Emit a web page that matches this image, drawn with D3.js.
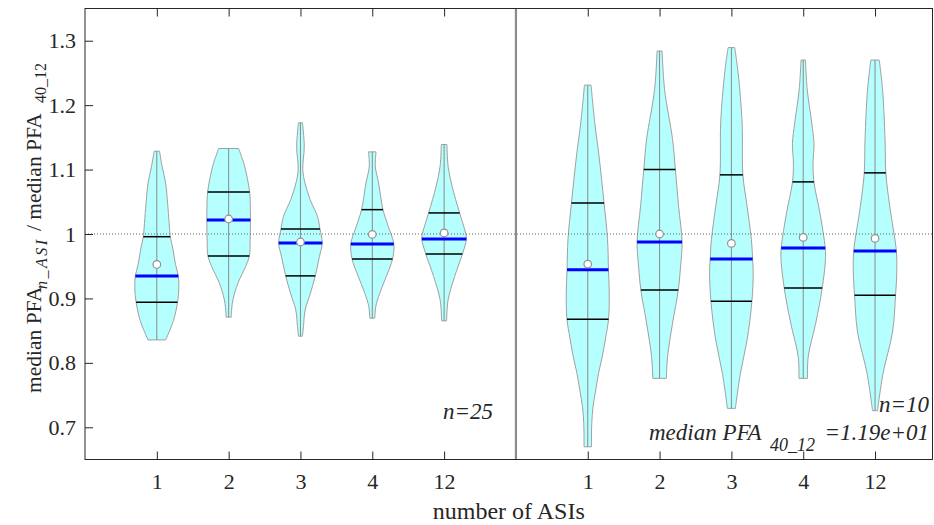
<!DOCTYPE html>
<html><head><meta charset="utf-8">
<script src="https://cdn.jsdelivr.net/npm/d3@7"></script>
<style>body{margin:0;background:#fff}svg{display:block}text{font-family:"Liberation Serif","Times New Roman",serif;fill:#262626}</style>
</head><body><svg id="c" width="934" height="525"></svg>
<script>
// ---- data ----
const tickLabels = ["1","2","3","4","12"];
const positions = [1,2,3,4,5,7,8,9,10,11];
const mins   = [0.8356,0.871,0.8414,0.8693,0.8652, 0.6697,0.776,0.7294,0.776,0.7257];
const maxs   = [1.1285,1.1327,1.1726,1.1275,1.1389, 1.2311,1.284,1.2893,1.27,1.27];
const q1s    = [0.894,0.9658,0.935,0.9611,0.9689, 0.8678,0.913,0.8958,0.916,0.9051];
const medians= [0.9347,1.0218,0.986,0.9844,0.9922, 0.9445,0.9876,0.9611,0.9782,0.9736];
const q3s    = [0.9958,1.0653,1.0078,1.0378,1.0327, 1.0482,1.1,1.0918,1.0809,1.0949];
const means  = [0.9527,1.0233,0.9876,0.9994,1.0016, 0.9533,1.0,0.9854,0.9947,0.9932];
// density profiles: [value, relative density]
const profiles = [
 [[1.1285,2.7],[1.105,5.3],[1.079,8.8],[1.053,10.5],[1.0,13.2],[0.9958,13.5],[0.9756,16.2],[0.9527,18.7],[0.9347,21.5],[0.915,22],[0.894,20.7],[0.866,16.7],[0.8356,8.8]],
 [[1.1327,10],[1.1207,12.8],[1.105,16],[1.0653,21],[1.04,21.7],[1.0218,21.8],[0.99,21.5],[0.9658,20.7],[0.9496,17],[0.9238,9.3],[0.8978,4.3],[0.877,2.7],[0.871,2.7]],
 [[1.1726,2],[1.1362,3.8],[1.1,2.3],[1.0793,4.5],[1.0533,9.7],[1.0274,17],[1.0078,19.5],[0.986,21.8],[0.9652,19],[0.935,14.8],[0.9082,10],[0.8822,4.7],[0.8563,3],[0.8414,2]],
 [[1.1275,3.8],[1.1051,3],[1.0793,6.3],[1.0378,10.7],[1.0118,16],[0.9844,21.5],[0.9611,20.2],[0.934,14],[0.9082,7.5],[0.8874,3.5],[0.8693,2.5]],
 [[1.1389,2.8],[1.1051,4],[1.074,8],[1.0327,15.5],[1.0016,21.5],[0.9922,22.3],[0.9689,18.3],[0.934,10.5],[0.8978,4],[0.8652,2.5]],
 [[1.2311,3.3],[1.1726,7],[1.1207,11.3],[1.0482,16.3],[0.9911,19.8],[0.9445,20.7],[0.9082,21.5],[0.8678,20.8],[0.84,18],[0.8096,14.5],[0.7838,10.8],[0.7579,8],[0.732,5.3],[0.7061,4],[0.6697,3.7]],
 [[1.284,2.5],[1.2244,5],[1.1467,13],[1.1,15.8],[1.0429,19],[0.9876,22.5],[0.9496,21],[0.9129,18.7],[0.8616,13],[0.8096,8],[0.776,6.8]],
 [[1.2893,3.3],[1.2504,6.7],[1.1726,10.7],[1.0918,11.5],[1.0429,15.7],[0.9911,20],[0.9611,21.2],[0.9393,21.8],[0.8958,20.5],[0.8356,15.7],[0.7838,9],[0.7294,4]],
 [[1.27,2.2],[1.2244,4],[1.1726,8.5],[1.14,10.8],[1.11,9.8],[1.0809,10.7],[1.0327,16.7],[0.9782,22],[0.96,22.2],[0.916,19],[0.8616,12.5],[0.8096,5],[0.776,4.3]],
 [[1.27,4.2],[1.2244,7.5],[1.1467,10],[1.0949,10.8],[1.0429,14.7],[0.9736,21.3],[0.9393,21.7],[0.9051,20.5],[0.848,17.5],[0.7838,8],[0.7257,2.5]]
];
const yTicks = [0.7,0.8,0.9,1,1.1,1.2,1.3];
const nLabels = ["n=25","n=10"];
const refValue = "=1.19e+01";

// ---- layout ----
const svg = d3.select("#c");
const L=85, R=932.5, T=8.5, B=459.5;
const x = d3.scaleLinear().domain([0,11.8]).range([L,R]);
const y = d3.scaleLinear().domain([0.65,1.35]).range([B,T]);
const w = d3.scaleLinear().domain([0,22]).range([0,22]);
const ink="#262626";

const g = svg.append("g");
profiles.forEach((prof,i)=>{
  const cx = x(positions[i]);
  const pts = prof.slice().sort((a,b)=>b[0]-a[0]);
  const area = d3.area().curve(d3.curveCatmullRom.alpha(0.5))
     .y(d=>y(d[0])).x0(d=>cx-w(d[1])).x1(d=>cx+w(d[1]));
  g.append("path").attr("d",area(pts)).attr("fill","#b5ffff").attr("stroke","#a0a0a0").attr("stroke-width",1);
});
g.append("line").attr("x1",L).attr("x2",R).attr("y1",y(1)).attr("y2",y(1))
  .attr("stroke","#606060").attr("stroke-width",1).attr("stroke-dasharray","1,2");
profiles.forEach((prof,i)=>{
  const cx = x(positions[i]);
  const pts = prof.slice().sort((a,b)=>a[0]-b[0]);
  const hw = d3.scaleLinear().domain(pts.map(d=>d[0])).range(pts.map(d=>d[1]));
  g.append("line").attr("x1",cx).attr("x2",cx).attr("y1",y(mins[i])).attr("y2",y(maxs[i]))
    .attr("stroke","#8a8a8a").attr("stroke-width",1);
  [q1s[i],q3s[i]].forEach(v=>{
    g.append("line").attr("x1",cx-w(hw(v))).attr("x2",cx+w(hw(v))).attr("y1",y(v)).attr("y2",y(v))
      .attr("stroke","#000").attr("stroke-width",1.5);
  });
  const m=medians[i];
  g.append("line").attr("x1",cx-w(hw(m))).attr("x2",cx+w(hw(m))).attr("y1",y(m)).attr("y2",y(m))
    .attr("stroke","#0000ff").attr("stroke-width",3);
  g.append("circle").attr("cx",cx).attr("cy",y(means[i])).attr("r",3.8)
    .attr("fill","#fff").attr("stroke","#909090").attr("stroke-width",1.2);
});
g.append("line").attr("x1",x(6)).attr("x2",x(6)).attr("y1",T).attr("y2",B)
  .attr("stroke","#8c8c8c").attr("stroke-width",2.2);

// axes
const xb = d3.axisBottom(x).tickValues(positions)
  .tickFormat((d)=>tickLabels[(d<6?d:d-6)-1]).tickSizeInner(-8).tickSizeOuter(0).tickPadding(14);
const xa = svg.append("g").attr("transform",`translate(0,${B})`).call(xb);
const xt = d3.axisTop(x).tickValues(positions).tickFormat("").tickSizeInner(-8).tickSizeOuter(0);
const xta = svg.append("g").attr("transform",`translate(0,${T})`).call(xt);
const yl = d3.axisLeft(y).tickValues(yTicks).tickFormat(d=>d3.format("")(d)).tickSizeInner(-8).tickSizeOuter(0).tickPadding(9);
const ya = svg.append("g").attr("transform",`translate(${L},0)`).call(yl);
[xa,xta,ya].forEach(a=>{
  a.selectAll(".domain").remove();
  a.selectAll("line").attr("stroke",ink);
  a.selectAll("text").attr("font-size",22).attr("fill",ink);
});
svg.append("rect").attr("x",L).attr("y",T).attr("width",R-L).attr("height",B-T)
  .attr("fill","none").attr("stroke",ink).attr("stroke-width",1);

// labels
svg.append("text").attr("x",(L+R)/2).attr("y",519).attr("text-anchor","middle").attr("font-size",24).text("number of ASIs");
const yg = svg.append("g").attr("transform","translate(41,0) rotate(-90)");
yg.append("text").attr("x",-393).attr("y",0).attr("font-size",21.5).text("median PFA");
yg.append("text").attr("x",-289).attr("y",6).attr("font-size",16).attr("font-style","italic").attr("letter-spacing",2.5).text("n_ASI");
yg.append("text").attr("x",-231).attr("y",0).attr("font-size",21.5).text("/ median PFA");
yg.append("text").attr("x",-103).attr("y",5).attr("font-size",16).text("40_12");

svg.append("text").attr("x",493).attr("y",419).attr("text-anchor","end").attr("font-size",23).attr("font-style","italic").text(nLabels[0]);
svg.append("text").attr("x",929).attr("y",412).attr("text-anchor","end").attr("font-size",23).attr("font-style","italic").text(nLabels[1]);
svg.append("text").attr("x",649).attr("y",440).attr("font-size",23).attr("font-style","italic").text("median PFA");
svg.append("text").attr("x",770).attr("y",451).attr("font-size",18).attr("font-style","italic").text("40_12");
svg.append("text").attr("x",929).attr("y",440).attr("text-anchor","end").attr("font-size",23).attr("font-style","italic").text(refValue);
</script></body></html>
